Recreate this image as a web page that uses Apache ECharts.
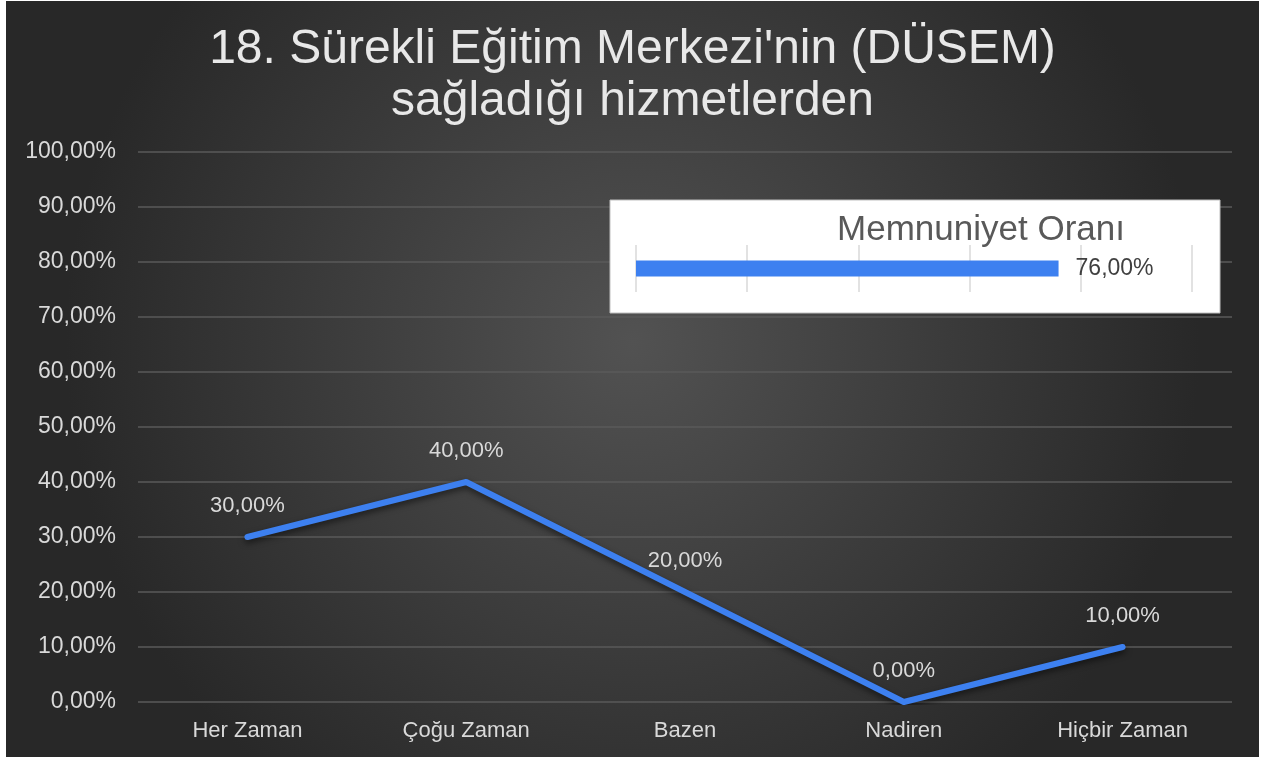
<!DOCTYPE html>
<html>
<head>
<meta charset="utf-8">
<script src="https://cdn.jsdelivr.net/npm/echarts@6/dist/echarts.min.js"></script>
<style>
  html, body { margin: 0; padding: 0; background: #fff; }
  #mycharts { position: absolute; left: 6px; top: 1px; width: 1253px; height: 756px; }
</style>
</head>
<body>
<div id="mycharts"></div>
<script>
const categories = ['Her Zaman', 'Çoğu Zaman', 'Bazen', 'Nadiren', 'Hiçbir Zaman'];
const values = [30, 40, 20, 0, 10];
const yTicks = [0, 10, 20, 30, 40, 50, 60, 70, 80, 90, 100];
const insetCategory = ['Memnuniyet Oranı'];
const insetValues = [76];

const pct = v => Number(v).toFixed(2).replace('.', ',') + '%';
const font = '"Liberation Sans", Arial, sans-serif';

let myCharts = echarts.init(document.getElementById('mycharts'));
myCharts.setOption({
  backgroundColor: {
    type: 'radial', x: 0.5, y: 0.45, r: 0.75,
    colorStops: [
      { offset: 0, color: '#525252' },
      { offset: 1, color: '#282828' }
    ]
  },
  textStyle: { fontFamily: font },
  title: [{
    text: "18. Sürekli Eğitim Merkezi'nin (DÜSEM)\nsağladığı hizmetlerden",
    left: 'center',
    top: 18,
    textStyle: { color: '#e8e8e8', fontSize: 48, fontWeight: 'normal', lineHeight: 52, fontFamily: font }
  }, {
    text: insetCategory[0],
    left: 970,
    top: 207,
    textAlign: 'center',
    textStyle: { color: '#595959', fontSize: 35, fontWeight: 'normal', fontFamily: font }
  }],
  graphic: [{
    type: 'rect',
    z: 1,
    shape: { x: 604, y: 199, width: 610, height: 113 },
    style: { fill: '#ffffff', stroke: '#bfbfbf', lineWidth: 1 }
  }],
  grid: [
    { left: 132, top: 151, width: 1094, height: 550 },
    { left: 630, top: 244, width: 556, height: 47 }
  ],
  xAxis: [{
    gridIndex: 0,
    type: 'category',
    data: categories,
    axisLine: { show: false },
    axisTick: { show: false },
    axisLabel: { color: '#d9d9d9', fontSize: 22, margin: 18 }
  }, {
    gridIndex: 1,
    type: 'value',
    z: 3,
    min: 0, max: 100, interval: 20,
    axisLine: { show: false },
    axisTick: { show: false },
    axisLabel: { show: false },
    splitLine: { lineStyle: { color: '#d9d9d9', width: 1.5 } }
  }],
  yAxis: [{
    gridIndex: 0,
    type: 'value',
    min: yTicks[0], max: yTicks[yTicks.length - 1], interval: 10,
    axisLine: { show: false },
    axisTick: { show: false },
    axisLabel: { color: '#d9d9d9', fontSize: 23, margin: 22, formatter: pct },
    splitLine: { lineStyle: { color: '#5a5a5a', width: 1.5 } }
  }, {
    gridIndex: 1,
    type: 'category',
    z: 3,
    data: insetCategory,
    axisLine: { show: false },
    axisTick: { show: false },
    axisLabel: { show: false }
  }],
  series: [{
    type: 'line',
    xAxisIndex: 0, yAxisIndex: 0,
    data: values,
    symbol: 'circle',
    symbolSize: 1,
    showSymbol: true,
    itemStyle: { color: '#3d80f0' },
    lineStyle: {
      color: '#3d80f0', width: 6, cap: 'round', join: 'round',
      shadowColor: 'rgba(0,0,0,0.55)', shadowBlur: 6, shadowOffsetY: 3
    },
    label: {
      show: true, position: 'top', distance: 20,
      color: '#d9d9d9', fontSize: 22, formatter: p => pct(p.value)
    },
    z: 2
  }, {
    type: 'bar',
    xAxisIndex: 1, yAxisIndex: 1,
    data: insetValues,
    barWidth: 16,
    itemStyle: { color: '#3d80f0' },
    label: {
      show: true, position: 'right', distance: 17,
      color: '#404040', fontSize: 23, formatter: p => pct(p.value)
    },
    z: 6
  }]
});
</script>
</body>
</html>
